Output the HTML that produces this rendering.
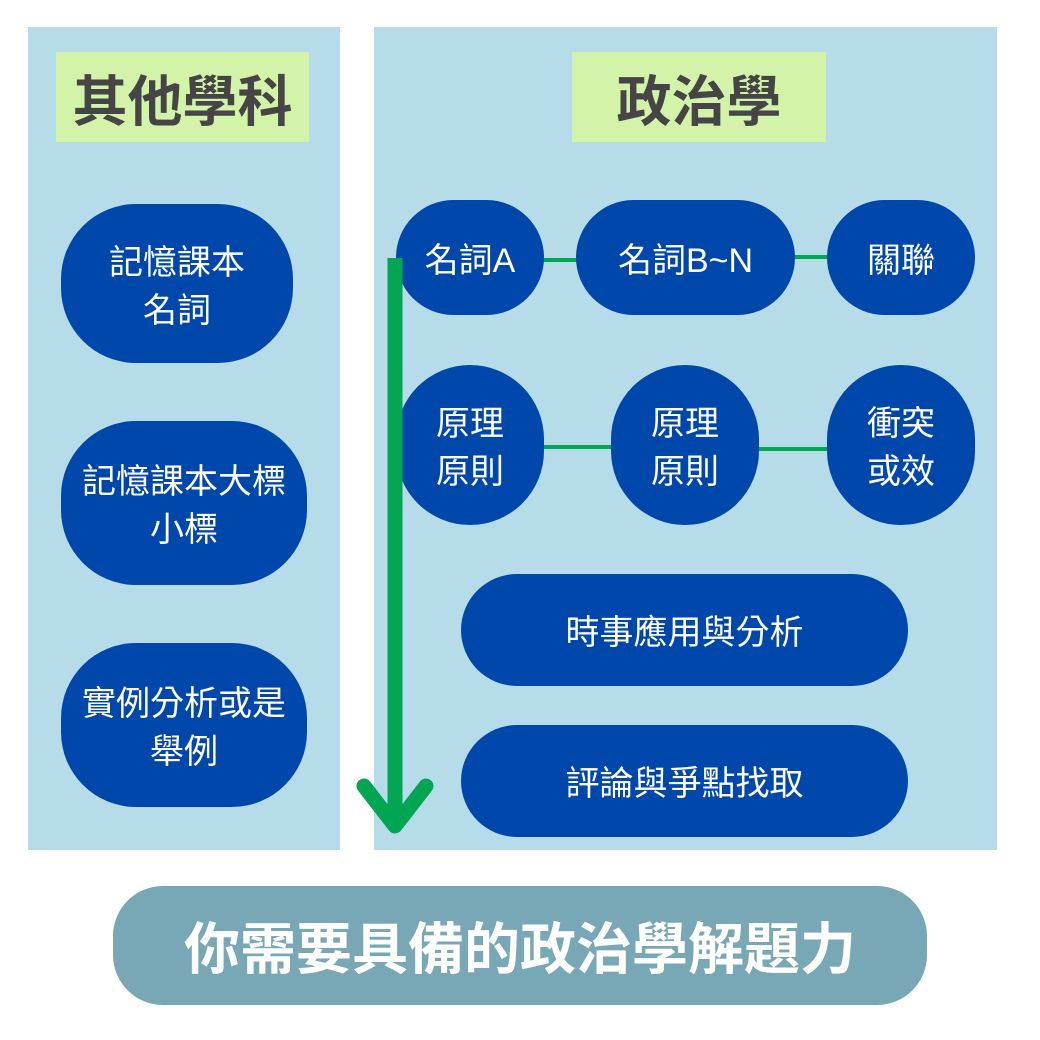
<!DOCTYPE html>
<html><head><meta charset="utf-8"><style>
body{margin:0;width:1040px;height:1040px;background:#fff;position:relative;overflow:hidden;font-family:"Liberation Sans","Noto Sans CJK TC",sans-serif}
.p{position:absolute;background:#b6dcea}
.t{position:absolute;background:#d3f3a9;color:#454545;font-weight:bold;font-size:55px;display:flex;align-items:center;justify-content:center;letter-spacing:0px}
.n{position:absolute;background:#0047ab;color:#fff;font-size:34px;line-height:48px;display:flex;align-items:center;justify-content:center;text-align:center;border-radius:75px;padding-top:6px;box-sizing:border-box}
.l{position:absolute;height:4px;background:#00a651}
</style></head><body>
<div class="p" style="left:28px;top:27px;width:312px;height:823px"></div>
<div class="p" style="left:374px;top:27px;width:623px;height:823px"></div>
<div class="t" style="left:56px;top:52px;width:253px;height:90px">其他學科</div>
<div class="t" style="left:572px;top:52px;width:254px;height:90px">政治學</div>
<div class="n" style="left:61px;top:204px;width:232px;height:159px">記憶課本<br>名詞</div>
<div class="n" style="left:61px;top:421px;width:246px;height:164px">記憶課本大標<br>小標</div>
<div class="n" style="left:61px;top:643px;width:246px;height:164px">實例分析或是<br>舉例</div>
<div class="l" style="left:540px;top:258px;width:40px"></div>
<div class="l" style="left:790px;top:255px;width:40px"></div>
<div class="l" style="left:540px;top:445px;width:75px"></div>
<div class="l" style="left:755px;top:447px;width:75px"></div>
<div class="n" style="left:396px;top:200px;width:148px;height:115px;border-radius:58px">名詞A</div>
<div class="n" style="left:576px;top:200px;width:219px;height:115px;border-radius:58px">名詞B~N</div>
<div class="n" style="left:827px;top:200px;width:148px;height:115px;border-radius:58px">關聯</div>
<div class="n" style="left:396px;top:365px;width:148px;height:160px">原理<br>原則</div>
<div class="n" style="left:611px;top:365px;width:148px;height:160px">原理<br>原則</div>
<div class="n" style="left:827px;top:365px;width:148px;height:160px">衝突<br>或效</div>
<div class="n" style="left:461px;top:574px;width:447px;height:112px;border-radius:56px">時事應用與分析</div>
<div class="n" style="left:461px;top:725px;width:447px;height:112px;border-radius:56px">評論與爭點找取</div>
<svg style="position:absolute;left:0;top:0" width="1040" height="1040">
<line x1="395" y1="258" x2="395" y2="828" stroke="#00a651" stroke-width="15"/>
<polyline points="364,786 395,826 426,786" fill="none" stroke="#00a651" stroke-width="15" stroke-linecap="round" stroke-linejoin="round"/>
</svg>
<div style="position:absolute;left:113px;top:886px;width:814px;height:119px;border-radius:50px;background:#78a7b5;color:#fff;font-weight:bold;font-size:56px;display:flex;align-items:center;justify-content:center">你需要具備的政治學解題力</div>
</body></html>
